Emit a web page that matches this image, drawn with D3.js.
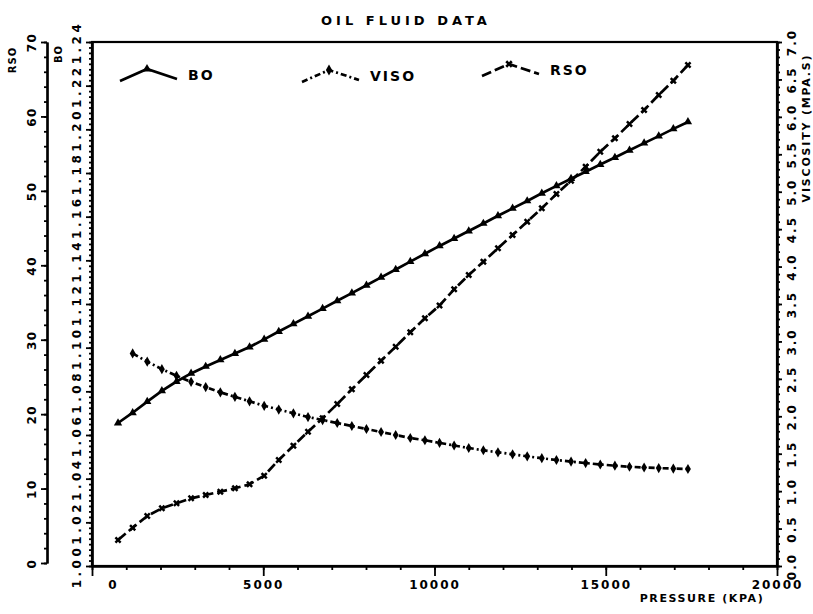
<!DOCTYPE html>
<html>
<head>
<meta charset="utf-8">
<script src="https://cdn.jsdelivr.net/npm/d3@7"></script>
<style>
  body { margin: 0; background: #fff; }
  svg { display: block; }
  text { font-family: "DejaVu Sans", sans-serif; font-weight: bold; fill: #000; }
</style>
</head>
<body>
<svg id="chart" width="813" height="614"></svg>
<script>
// Pressure steps of the PVT table (kPa)
const pressure = [760, 1187, 1613, 2040, 2467, 2893, 3320, 3747, 4173, 4600,
  5027, 5453, 5880, 6307, 6733, 7160, 7587, 8013, 8440, 8867,
  9293, 9720, 10147, 10573, 11000, 11427, 11853, 12280, 12707, 13133,
  13560, 13987, 14413, 14840, 15267, 15693, 16120, 16547, 16973, 17400];

// Oil formation volume factor
const bo = [1.0655, 1.0702, 1.0753, 1.0802, 1.0845, 1.0882, 1.0914, 1.0944, 1.0973, 1.1003,
  1.1038, 1.1074, 1.1109, 1.1144, 1.1179, 1.1215, 1.1250, 1.1286, 1.1322, 1.1358,
  1.1394, 1.1430, 1.1466, 1.1500, 1.1534, 1.1569, 1.1604, 1.1638, 1.1672, 1.1707,
  1.1741, 1.1774, 1.1806, 1.1839, 1.1871, 1.1904, 1.1937, 1.1969, 1.2002, 1.2034];

// Oil viscosity (mPa.s); no reading at the first pressure step
const viso = [null, 2.84, 2.73, 2.63, 2.54, 2.46, 2.39, 2.32, 2.26, 2.20,
  2.14, 2.09, 2.04, 1.99, 1.95, 1.91, 1.87, 1.83, 1.79, 1.75,
  1.71, 1.68, 1.645, 1.61, 1.576, 1.546, 1.519, 1.492, 1.465, 1.44,
  1.416, 1.395, 1.375, 1.356, 1.34, 1.326, 1.316, 1.308, 1.301, 1.296];

// Solution gas-oil ratio
const rso = [3.09, 4.74, 6.31, 7.35, 8.02, 8.69, 9.14, 9.58, 10.04, 10.57,
  11.73, 13.84, 15.76, 17.64, 19.44, 21.36, 23.34, 25.26, 27.18, 29.06,
  31.00, 32.88, 34.60, 36.77, 38.69, 40.48, 42.28, 44.07, 45.86, 47.66,
  49.58, 51.36, 53.24, 55.26, 57.06, 58.98, 60.86, 62.88, 64.80, 66.91];

const seriesNames = ["BO", "VISO", "RSO"];

const pressureTicks = [0, 5000, 10000, 15000, 20000];
const rsoTicks = [0, 10, 20, 30, 40, 50, 60, 70];
const boTicks = [1.00, 1.02, 1.04, 1.06, 1.08, 1.10, 1.12, 1.14, 1.16, 1.18, 1.20, 1.22, 1.24];
const viscTicks = [0.0, 0.5, 1.0, 1.5, 2.0, 2.5, 3.0, 3.5, 4.0, 4.5, 5.0, 5.5, 6.0, 6.5, 7.0];

const title = "OIL FLUID DATA";
const xTitle = "PRESSURE (KPA)";
const viscTitle = "VISCOSITY (MPA.S)";

// ---- layout ----
const L = 92, R = 777, T = 42, B = 566;
const rsoAxisX = 47;

const svg = d3.select("#chart");

const x = d3.scaleLinear().domain([0, 20000]).range([L, R]);
const yBo = d3.scaleLinear().domain([1.00, 1.24]).range([B, T]);
const yRso = d3.scaleLinear().domain([0, 70]).range([563, T]);
const yVis = d3.scaleLinear().domain([0, 7]).range([B, T]);

function styleAxis(g) {
  g.selectAll("path.domain").attr("stroke", "#000").attr("stroke-width", 2.2);
  g.selectAll(".tick line").attr("stroke", "#000").attr("stroke-width", 1.8);
}

function rotateLabels(g, offset, size, spacing) {
  g.selectAll(".tick text")
    .attr("x", 0).attr("y", 0)
    .attr("dy", "0.36em")
    .attr("text-anchor", "middle")
    .attr("transform", `translate(${offset},0) rotate(-90)`)
    .style("font-size", size + "px")
    .style("letter-spacing", spacing + "px");
}

// frame
svg.append("rect")
  .attr("x", L).attr("y", T).attr("width", R - L).attr("height", B - T)
  .attr("fill", "none").attr("stroke", "#000").attr("stroke-width", 2.2);

// bottom pressure axis: minor then major ticks
svg.append("g").attr("transform", `translate(0,${B})`)
  .call(d3.axisBottom(x).tickValues(d3.range(0, 20001, 1000)).tickSize(4).tickSizeOuter(0).tickFormat(""))
  .call(styleAxis);
const gx = svg.append("g").attr("transform", `translate(0,${B})`)
  .call(d3.axisBottom(x).tickValues(pressureTicks).tickSize(10).tickSizeOuter(0).tickFormat(d3.format("d")).tickPadding(4))
  .call(styleAxis);
gx.selectAll(".tick text")
  .attr("dx", d => d === 0 ? 21 : 0)
  .style("font-size", "12px").style("letter-spacing", "2px");

// inner left BO axis
svg.append("g").attr("transform", `translate(${L},0)`)
  .call(d3.axisLeft(yBo).tickValues(d3.range(0, 97).map(i => 1 + i * 0.0025)).tickSize(3).tickSizeOuter(0).tickFormat(""))
  .call(styleAxis);
const gBo = svg.append("g").attr("transform", `translate(${L},0)`)
  .call(d3.axisLeft(yBo).tickValues(boTicks).tickSize(6).tickSizeOuter(0).tickFormat(d3.format(".2f")))
  .call(styleAxis);
rotateLabels(gBo, -15, 12, 3.5);

// outer left RSO axis
svg.append("g").attr("transform", `translate(${rsoAxisX},0)`)
  .call(d3.axisLeft(yRso).tickValues(d3.range(0, 71, 2)).tickSize(3).tickSizeOuter(0).tickFormat(""))
  .call(styleAxis);
const gRso = svg.append("g").attr("transform", `translate(${rsoAxisX},0)`)
  .call(d3.axisLeft(yRso).tickValues(rsoTicks).tickSize(6).tickSizeOuter(0).tickFormat(d3.format("d")))
  .call(styleAxis);
rotateLabels(gRso, -15, 12, 1.5);

// right viscosity axis
svg.append("g").attr("transform", `translate(${R},0)`)
  .call(d3.axisRight(yVis).tickValues(d3.range(0, 71).map(i => i / 10)).tickSize(3).tickSizeOuter(0).tickFormat(""))
  .call(styleAxis);
const gVis = svg.append("g").attr("transform", `translate(${R},0)`)
  .call(d3.axisRight(yVis).tickValues(viscTicks).tickSize(5).tickSizeOuter(0).tickFormat(d3.format(".1f")))
  .call(styleAxis);
rotateLabels(gVis, 15, 12, 2);

// axis titles
svg.append("text").attr("x", 406).attr("y", 25).attr("text-anchor", "middle")
  .style("font-size", "13px").style("letter-spacing", "4px").text(title);
svg.append("text").attr("x", 702).attr("y", 602).attr("text-anchor", "middle")
  .style("font-size", "11px").style("letter-spacing", "1.6px").text(xTitle);
svg.append("text").attr("transform", "translate(806,128) rotate(-90)").attr("dy", "0.36em")
  .attr("text-anchor", "middle")
  .style("font-size", "11px").style("letter-spacing", "1.8px").text(viscTitle);
svg.append("text").attr("transform", "translate(12,60) rotate(-90)").attr("dy", "0.36em")
  .attr("text-anchor", "middle")
  .style("font-size", "10px").style("letter-spacing", "1px").text("RSO");
svg.append("text").attr("transform", "translate(58,54) rotate(-90)").attr("dy", "0.36em")
  .attr("text-anchor", "middle")
  .style("font-size", "10px").style("letter-spacing", "1px").text("BO");

// ---- series ----
const series = [
  { name: seriesNames[0], values: bo, y: yBo, dash: null, symbol: d3.symbolTriangle, rot: 0 },
  { name: seriesNames[1], values: viso, y: yVis, dash: "6,3,2,3", symbol: d3.symbolDiamond, rot: 0 },
  { name: seriesNames[2], values: rso, y: yRso, dash: "10,4", symbol: d3.symbolCross, rot: 45 }
];

series.forEach(s => {
  const pts = pressure.map((p, i) => [p, s.values[i]]);
  const line = d3.line()
    .defined(d => d[1] != null)
    .x(d => x(d[0])).y(d => s.y(d[1]));
  svg.append("path").datum(pts)
    .attr("d", line)
    .attr("fill", "none").attr("stroke", "#000").attr("stroke-width", 2.7)
    .attr("stroke-dasharray", s.dash);
  svg.append("g").selectAll("path")
    .data(pts.filter(d => d[1] != null))
    .join("path")
    .attr("transform", d => `translate(${x(d[0])},${s.y(d[1])}) rotate(${s.rot})`)
    .attr("d", d3.symbol(s.symbol, 30))
    .attr("fill", "#000");
});

// ---- legend ----
const legendX = [120, 302, 482];
const legendY = [75, 76, 70];
series.forEach((s, i) => {
  const x0 = legendX[i], y0 = legendY[i];
  const g = svg.append("g").attr("transform", `translate(${x0},${y0})`);
  g.append("path")
    .attr("d", d3.line()([[0, 6], [27, -6], [57, 4]]))
    .attr("fill", "none").attr("stroke", "#000").attr("stroke-width", 2.7)
    .attr("stroke-dasharray", s.dash);
  g.append("path")
    .attr("transform", `translate(27,-6) rotate(${s.rot})`)
    .attr("d", d3.symbol(s.symbol, 34))
    .attr("fill", "#000");
  g.append("text").attr("x", 68).attr("y", 0).attr("dy", "0.36em")
    .style("font-size", "14px").style("letter-spacing", "2px").text(s.name);
});
</script>
</body>
</html>
